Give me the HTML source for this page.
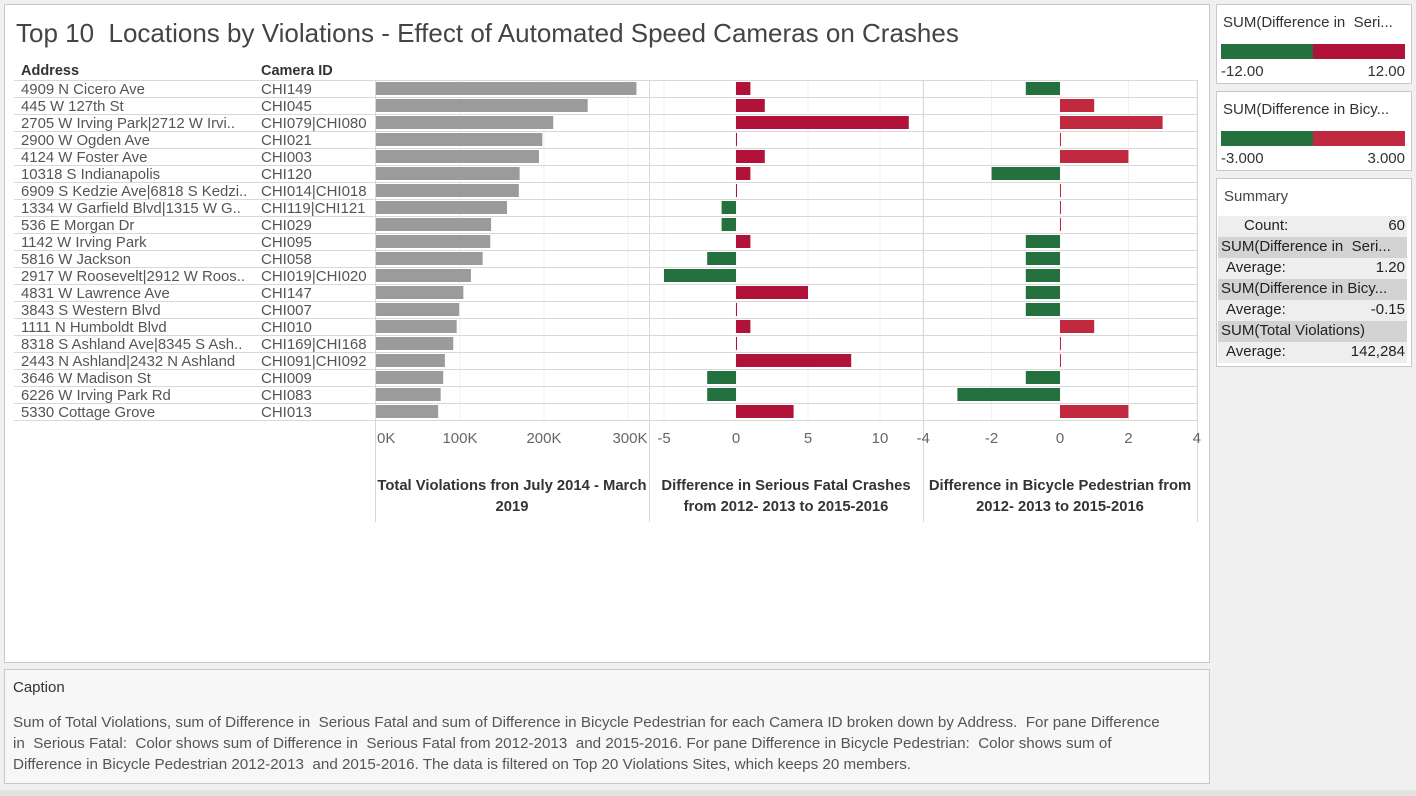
<!DOCTYPE html>
<html><head><meta charset="utf-8">
<style>
body{margin:0;width:1416px;height:796px;background:#f0f0f0;font-family:"Liberation Sans","DejaVu Sans",sans-serif;position:relative;overflow:hidden}
.panel{position:absolute;background:#fff;border:1px solid #c8c8c8;box-sizing:border-box}
.t{position:absolute;white-space:nowrap}
</style></head><body>
<div class="panel" style="left:4px;top:4px;width:1206px;height:659px"></div>
<div class="t" style="left:16px;top:18px;font-size:26px;color:#444">Top 10&nbsp; Locations by Violations - Effect of Automated Speed Cameras on Crashes</div>
<svg id="chart" width="1416" height="796" style="position:absolute;left:0;top:0" font-family="Liberation Sans, DejaVu Sans, sans-serif"></svg>

<div class="panel" style="left:1216px;top:4px;width:196px;height:80px"></div>
<div class="t" style="left:1223px;top:14px;font-size:15px;color:#333">SUM(Difference in&nbsp; Seri...</div>
<div style="position:absolute;left:1221px;top:44px;width:92px;height:15px;background:#24703f"></div>
<div style="position:absolute;left:1313px;top:44px;width:92px;height:15px;background:#b0123a"></div>
<div class="t" style="left:1221px;top:63px;font-size:15px;color:#333">-12.00</div>
<div class="t" style="right:11px;top:63px;font-size:15px;color:#333">12.00</div>

<div class="panel" style="left:1216px;top:91px;width:196px;height:80px"></div>
<div class="t" style="left:1223px;top:101px;font-size:15px;color:#333">SUM(Difference in Bicy...</div>
<div style="position:absolute;left:1221px;top:131px;width:92px;height:15px;background:#24703f"></div>
<div style="position:absolute;left:1313px;top:131px;width:92px;height:15px;background:#c0293f"></div>
<div class="t" style="left:1221px;top:150px;font-size:15px;color:#333">-3.000</div>
<div class="t" style="right:11px;top:150px;font-size:15px;color:#333">3.000</div>

<div class="panel" style="left:1216px;top:178px;width:196px;height:189px"></div>
<div class="t" style="left:1224px;top:188px;font-size:15px;color:#444">Summary</div>
<div style="position:absolute;left:1218px;top:216px;width:189px;font-size:15px;color:#222">
<div style="height:21px;background:#eee;position:relative"><span class="t" style="left:26px;top:1px">Count:</span><span class="t" style="right:2px;top:1px">60</span></div>
<div style="height:21px;background:#d3d3d3;position:relative"><span class="t" style="left:3px;top:1px">SUM(Difference in&nbsp; Seri...</span></div>
<div style="height:21px;background:#eee;position:relative"><span class="t" style="left:8px;top:1px">Average:</span><span class="t" style="right:2px;top:1px">1.20</span></div>
<div style="height:21px;background:#d3d3d3;position:relative"><span class="t" style="left:3px;top:1px">SUM(Difference in Bicy...</span></div>
<div style="height:21px;background:#eee;position:relative"><span class="t" style="left:8px;top:1px">Average:</span><span class="t" style="right:2px;top:1px">-0.15</span></div>
<div style="height:21px;background:#d3d3d3;position:relative"><span class="t" style="left:3px;top:1px">SUM(Total Violations)</span></div>
<div style="height:21px;background:#eee;position:relative"><span class="t" style="left:8px;top:1px">Average:</span><span class="t" style="right:2px;top:1px">142,284</span></div>
</div>

<div class="panel" style="left:4px;top:669px;width:1206px;height:115px;background:#f7f7f7"></div>
<div class="t" style="left:13px;top:679px;font-size:15px;color:#333">Caption</div>
<div style="position:absolute;left:13px;top:712px;width:1150px;font-size:15.2px;line-height:21px;color:#555">Sum of Total Violations, sum of Difference in&nbsp; Serious Fatal and sum of Difference in Bicycle Pedestrian for each Camera ID broken down by Address.&nbsp; For pane Difference in&nbsp; Serious Fatal:&nbsp; Color shows sum of Difference in&nbsp; Serious Fatal from 2012-2013&nbsp; and 2015-2016. For pane Difference in Bicycle Pedestrian:&nbsp; Color shows sum of Difference in Bicycle Pedestrian 2012-2013&nbsp; and 2015-2016. The data is filtered on Top 20 Violations Sites, which keeps 20 members.</div>
<div style="position:absolute;left:0;top:790px;width:1416px;height:6px;background:#e3e3e3"></div>

<script>
const addresses=["4909 N Cicero Ave","445 W 127th St","2705 W Irving Park|2712 W Irvi..","2900 W Ogden Ave","4124 W Foster Ave","10318 S Indianapolis","6909 S Kedzie Ave|6818 S Kedzi..","1334 W Garfield Blvd|1315 W G..","536 E Morgan Dr","1142 W Irving Park","5816 W Jackson","2917 W Roosevelt|2912 W Roos..","4831 W Lawrence Ave","3843 S Western Blvd","1111 N Humboldt Blvd","8318 S Ashland Ave|8345 S Ash..","2443 N Ashland|2432 N Ashland","3646 W Madison St","6226 W Irving Park Rd","5330 Cottage Grove"];
const cameras=["CHI149","CHI045","CHI079|CHI080","CHI021","CHI003","CHI120","CHI014|CHI018","CHI119|CHI121","CHI029","CHI095","CHI058","CHI019|CHI020","CHI147","CHI007","CHI010","CHI169|CHI168","CHI091|CHI092","CHI009","CHI083","CHI013"];
const violations=[310000,252000,211000,198000,194000,171000,170000,156000,137000,136000,127000,113000,104000,99000,96000,92000,82000,80000,77000,74000];
const seriousDiff=[1,2,12,0,2,1,0,-1,-1,1,-2,-5,5,0,1,0,8,-2,-2,4];
const bikeDiff=[-1,1,3,0,2,-2,0,0,0,-1,-1,-1,-1,-1,1,0,0,-1,-3,2];
const violTicks=[0,100000,200000,300000];
const violTickLabels=["0K","100K","200K","300K"];
const seriousTicks=[-5,0,5,10];
const bikeTicks=[-4,-2,0,2,4];

const svg=document.getElementById('chart');
const NS="http://www.w3.org/2000/svg";
function mk(tag,attrs,parent){const e=document.createElementNS(NS,tag);for(const k in attrs)e.setAttribute(k,attrs[k]);(parent||svg).appendChild(e);return e;}
const rowTop=80,rowH=17;
const xV=v=>376+v*0.00084;
const xS=v=>736+v*14.4;
const xB=v=>1060+v*34.2;

[violTicks.map(xV),seriousTicks.map(xS),bikeTicks.map(xB)].forEach(g=>g.forEach(x=>{const l=mk('line',{x1:x,x2:x,y1:rowTop,y2:rowTop+20*rowH,stroke:'#f0f0f0'});

}));

for(let i=0;i<=20;i++){const y=rowTop+i*rowH+0.5;const l=mk('line',{x1:14,x2:1197,y1:y,y2:y,stroke:'#d8d8d8'});

}
[375.5,649.5,923.5,1197.5].forEach(x=>{const l=mk('line',{x1:x,x2:x,y1:rowTop,y2:522,stroke:'#d8d8d8'});

});

let h=mk('text',{x:21,y:75,'font-size':14.5,fill:'#333','font-weight':'bold'});h.textContent='Address';


h=mk('text',{x:261,y:75,'font-size':14.5,fill:'#333','font-weight':'bold'});h.textContent='Camera ID';



for(let i=0;i<20;i++){
  const y=rowTop+i*rowH;
  let t=mk('text',{x:21,y:y+14,'font-size':14.9,fill:'#555'});t.textContent=addresses[i];
  
  
  t=mk('text',{x:261,y:y+14,'font-size':15,fill:'#555'});t.textContent=cameras[i];
  
  
  let r=mk('rect',{x:xV(0),y:y+2,width:xV(violations[i])-xV(0),height:13,fill:'#9b9b9b'});
  
  
  const s=seriousDiff[i];
  r=mk('rect',{x:Math.min(xS(0),xS(s)),y:y+2,width:Math.max(1,Math.abs(xS(s)-xS(0))),height:13,fill:s<0?'#24703f':'#b0123a'});
  
  
  const b=bikeDiff[i];
  r=mk('rect',{x:Math.min(xB(0),xB(b)),y:y+2,width:Math.max(1,Math.abs(xB(b)-xB(0))),height:13,fill:b<0?'#24703f':'#c0293f'});
  
  
}
violTicks.forEach((v,i)=>{const x=xV(v);const t=mk('text',{x:i==0?x+1:(i==3?x+2:x),y:443,'font-size':15,fill:'#666','text-anchor':i==0?'start':'middle'});t.textContent=violTickLabels[i];

});
seriousTicks.forEach(v=>{const x=xS(v);const t=mk('text',{x:x,y:443,'font-size':15,fill:'#666','text-anchor':'middle'});t.textContent=String(v);

});
bikeTicks.forEach(v=>{const x=xB(v);const t=mk('text',{x:x,y:443,'font-size':15,fill:'#666','text-anchor':'middle'});t.textContent=String(v);

});
const titles=[[512,"Total Violations fron July 2014 - March","2019","violations-axis-title"],[786,"Difference in Serious Fatal Crashes","from 2012- 2013 to 2015-2016","serious-axis-title"],[1060,"Difference in Bicycle Pedestrian from","2012- 2013 to 2015-2016","bicycle-axis-title"]];
titles.forEach(a=>{[a[1],a[2]].forEach((s,j)=>{const t=mk('text',{x:a[0],y:490+j*21,'font-size':14.8,fill:'#333','font-weight':'bold','text-anchor':'middle'});t.textContent=s;

});});
</script>
</body></html>
